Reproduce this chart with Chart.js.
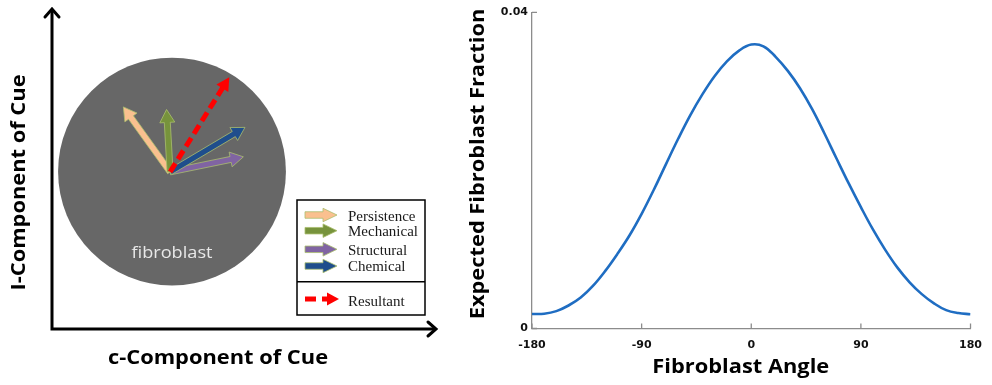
<!DOCTYPE html>
<html>
<head>
<meta charset="utf-8">
<script src="https://cdn.jsdelivr.net/npm/chart.js@4.4.0/dist/chart.umd.min.js"></script>
<style>
  body { margin: 0; background: #fff; }
  #cueChart { position: absolute; left: 0; top: 0; }
  #angleChart { position: absolute; left: 450px; top: 0; }
</style>
</head>
<body>
<canvas id="cueChart" width="450" height="385"></canvas>
<canvas id="angleChart" width="542" height="385"></canvas>
<script>
// cell and cue vectors, in c / l component units
var cellCenter = [3.75, 4.92];
var cellRadius = 3.56;
var cueOrigin = [3.69, 4.91];
var cueNames = ['Persistence', 'Mechanical', 'Structural', 'Chemical'];
var cueC = [-1.46, -0.11, 2.29, 2.34];
var cueL = [2.03, 1.95, 0.47, 1.39];
var resultant = [1.85, 2.96];

// expected fraction of fibroblasts per angle
var angles = [-180, -170, -160, -150, -140, -130, -120, -110, -100, -90, -80, -70, -60, -50, -40, -30, -20, -10,
              0, 10, 20, 30, 40, 50, 60, 70, 80, 90, 100, 110, 120, 130, 140, 150, 160, 170, 180];
var fractions = [0.00183, 0.00187, 0.00220, 0.00291, 0.00392, 0.00539, 0.00726, 0.00941, 0.01176, 0.01450,
                 0.01755, 0.02080, 0.02400, 0.02700, 0.02965, 0.03195, 0.03380, 0.03515,
                 0.03592, 0.03570, 0.03437, 0.03259, 0.03040, 0.02775, 0.02470, 0.02150, 0.01835, 0.01535,
                 0.01250, 0.00995, 0.00770, 0.00585, 0.00435, 0.00318, 0.00232, 0.00195, 0.00180];
var angleTicks = [-180, -90, 0, 90, 180];
var fractionTicks = [0, 0.04];

var cueColors = ['#fac08f', '#77933c', '#8064a2', '#1f4e8c'];
var titleFont = 'bold 19.5px "Open Sans"';
var titleStretch = 1.12;

function blockArrow(ctx, x0, y0, x1, y1, shaftW, headW, headL) {
    var dx = x1 - x0, dy = y1 - y0, len = Math.hypot(dx, dy);
    var ux = dx / len, uy = dy / len, nx = -uy, ny = ux;
    var bx = x1 - ux * headL, by = y1 - uy * headL;
    ctx.beginPath();
    ctx.moveTo(x0 + nx * shaftW / 2, y0 + ny * shaftW / 2);
    ctx.lineTo(bx + nx * shaftW / 2, by + ny * shaftW / 2);
    ctx.lineTo(bx + nx * headW / 2, by + ny * headW / 2);
    ctx.lineTo(x1, y1);
    ctx.lineTo(bx - nx * headW / 2, by - ny * headW / 2);
    ctx.lineTo(bx - nx * shaftW / 2, by - ny * shaftW / 2);
    ctx.lineTo(x0 - nx * shaftW / 2, y0 - ny * shaftW / 2);
    ctx.closePath();
    ctx.fill();
    ctx.stroke();
}

function dashedArrow(ctx, x0, y0, x1, y1, width, headW, headL, dash) {
    var dx = x1 - x0, dy = y1 - y0, len = Math.hypot(dx, dy);
    var ux = dx / len, uy = dy / len, nx = -uy, ny = ux;
    var bx = x1 - ux * headL, by = y1 - uy * headL;
    ctx.save();
    ctx.lineWidth = width;
    ctx.setLineDash(dash);
    ctx.beginPath();
    ctx.moveTo(x0, y0);
    ctx.lineTo(bx + ux * 2, by + uy * 2);
    ctx.stroke();
    ctx.restore();
    ctx.beginPath();
    ctx.moveTo(x1, y1);
    ctx.lineTo(bx + nx * headW / 2, by + ny * headW / 2);
    ctx.lineTo(bx - nx * headW / 2, by - ny * headW / 2);
    ctx.closePath();
    ctx.fill();
}

// bold axis title, slightly widened along its own direction
function axisTitle(ctx, text, x, y, rotated) {
    ctx.save();
    ctx.translate(x, y);
    if (rotated) ctx.rotate(-Math.PI / 2);
    ctx.scale(titleStretch, 1);
    ctx.font = titleFont;
    ctx.fillStyle = '#000';
    ctx.textAlign = 'center';
    ctx.fillText(text, 0, 0);
    ctx.restore();
}

// cell body, axes, cue arrows, labels and key for the cell diagram
var cueDiagram = {
    id: 'cueDiagram',
    beforeDatasetsDraw: function (chart) {
        var ctx = chart.ctx, xs = chart.scales.x, ys = chart.scales.y;
        var cx = xs.getPixelForValue(cellCenter[0]), cy = ys.getPixelForValue(cellCenter[1]);
        var r = xs.getPixelForValue(cellRadius) - xs.getPixelForValue(0);
        ctx.save();
        ctx.fillStyle = '#676767';
        ctx.beginPath();
        ctx.arc(cx, cy, r, 0, Math.PI * 2);
        ctx.fill();
        ctx.restore();
    },
    afterDatasetsDraw: function (chart) {
        var ctx = chart.ctx, xs = chart.scales.x, ys = chart.scales.y;
        var px = function (v) { return xs.getPixelForValue(v); };
        var py = function (v) { return ys.getPixelForValue(v); };
        ctx.save();

        ctx.save();
        ctx.translate(px(cellCenter[0]), py(cellCenter[1]) + 86);
        ctx.scale(1.1, 1);
        ctx.fillStyle = '#e8e8e8';
        ctx.font = '16.5px "Open Sans"';
        ctx.textAlign = 'center';
        ctx.fillText('fibroblast', 0, 0);
        ctx.restore();

        // axes with open arrow heads
        var ox = px(xs.min), oy = py(ys.min), tx = px(xs.max), ty = py(ys.max);
        ctx.strokeStyle = '#000';
        ctx.lineWidth = 3;
        ctx.lineJoin = 'miter';
        ctx.beginPath();
        ctx.moveTo(ox, ty);
        ctx.lineTo(ox, oy);
        ctx.lineTo(tx, oy);
        ctx.stroke();
        ctx.lineCap = 'round';
        ctx.beginPath();
        ctx.moveTo(ox - 7, ty + 8); ctx.lineTo(ox, ty); ctx.lineTo(ox + 7, ty + 8);
        ctx.moveTo(tx - 8, oy - 7); ctx.lineTo(tx, oy); ctx.lineTo(tx - 8, oy + 7);
        ctx.stroke();
        ctx.lineCap = 'butt';

        // cue vectors from the cell centre
        var x0 = px(cueOrigin[0]), y0 = py(cueOrigin[1]);
        ctx.lineWidth = 1;
        cueNames.forEach(function (name, i) {
            ctx.fillStyle = cueColors[i];
            ctx.strokeStyle = 'rgba(170,190,110,0.8)';
            blockArrow(ctx, x0, y0, px(cueOrigin[0] + cueC[i]), py(cueOrigin[1] + cueL[i]), 6, 15, 13);
        });
        ctx.fillStyle = '#ff0000';
        ctx.strokeStyle = '#ff0000';
        dashedArrow(ctx, x0, y0, px(cueOrigin[0] + resultant[0]), py(cueOrigin[1] + resultant[1]), 5, 14, 13, [10, 5]);

        axisTitle(ctx, 'c-Component of Cue', 218, 364, false);
        axisTitle(ctx, 'I-Component of Cue', 25, 182.5, true);

        // key
        ctx.strokeStyle = '#000';
        ctx.lineWidth = 1.5;
        ctx.strokeRect(297, 200, 128, 115);
        ctx.beginPath();
        ctx.moveTo(297, 281.7);
        ctx.lineTo(425, 281.7);
        ctx.stroke();
        var keyY = [215, 230.7, 249.3, 266];
        var keyBase = [220.7, 235.7, 255, 270.7];
        ctx.font = '15px "Liberation Serif"';
        ctx.textAlign = 'left';
        ctx.lineWidth = 1;
        cueNames.forEach(function (name, i) {
            ctx.fillStyle = cueColors[i];
            ctx.strokeStyle = 'rgba(170,190,110,0.8)';
            blockArrow(ctx, 305, keyY[i], 337, keyY[i], 6.5, 13.5, 14);
            ctx.fillStyle = '#1a1a1a';
            ctx.fillText(name, 348, keyBase[i]);
        });
        ctx.fillStyle = '#ff0000';
        ctx.strokeStyle = '#ff0000';
        dashedArrow(ctx, 305, 299, 339, 299, 5, 13, 12, [11, 6]);
        ctx.fillStyle = '#1a1a1a';
        ctx.fillText('Resultant', 348, 305.7);

        ctx.restore();
    }
};

new Chart(document.getElementById('cueChart'), {
    type: 'scatter',
    data: { datasets: [] },
    options: {
        responsive: false,
        animation: false,
        events: [],
        layout: { padding: { left: 52, right: 14, top: 9, bottom: 56 } },
        plugins: { legend: { display: false }, tooltip: { enabled: false } },
        scales: {
            x: { display: false, min: 0, max: 12 },
            y: { display: false, min: 0, max: 10 }
        }
    },
    plugins: [cueDiagram]
});

// inward tick marks and axis titles for the angle plot
var angleAxes = {
    id: 'angleAxes',
    afterDraw: function (chart) {
        var ctx = chart.ctx, xs = chart.scales.x, ys = chart.scales.y, a = chart.chartArea;
        ctx.save();
        ctx.strokeStyle = '#8c8c8c';
        ctx.lineWidth = 1.3;
        ctx.beginPath();
        angleTicks.forEach(function (v) {
            var p = xs.getPixelForValue(v);
            ctx.moveTo(p, a.bottom);
            ctx.lineTo(p, a.bottom - 5);
        });
        fractionTicks.forEach(function (v) {
            var p = ys.getPixelForValue(v);
            ctx.moveTo(a.left, p);
            ctx.lineTo(a.left + 5, p);
        });
        ctx.stroke();
        ctx.restore();

        axisTitle(ctx, 'Fibroblast Angle', 290.8, 373, false);
        axisTitle(ctx, 'Expected Fibroblast Fraction', 33.5, 164, true);
    }
};

new Chart(document.getElementById('angleChart'), {
    type: 'line',
    data: {
        datasets: [{
            data: angles.map(function (a, i) { return { x: a, y: fractions[i] }; }),
            borderColor: '#1f6dc2',
            borderWidth: 2.6,
            pointRadius: 0,
            tension: 0.4,
            fill: false
        }]
    },
    options: {
        responsive: false,
        animation: false,
        events: [],
        layout: { padding: { left: 0, right: 13.5, top: 12.3, bottom: 0 } },
        plugins: { legend: { display: false }, tooltip: { enabled: false } },
        scales: {
            x: {
                type: 'linear',
                min: -180,
                max: 180,
                afterBuildTicks: function (s) { s.ticks = angleTicks.map(function (v) { return { value: v }; }); },
                afterFit: function (s) { s.height = 56.5; },
                grid: { drawOnChartArea: false, drawTicks: false },
                border: { color: '#8c8c8c', width: 1.3 },
                ticks: {
                    color: '#111',
                    font: { family: 'DejaVu Sans', weight: 'bold', size: 11 },
                    padding: 10,
                    maxRotation: 0,
                    autoSkip: false
                }
            },
            y: {
                min: 0,
                max: 0.04,
                afterBuildTicks: function (s) { s.ticks = fractionTicks.map(function (v) { return { value: v }; }); },
                afterFit: function (s) { s.width = 82; },
                grid: { drawOnChartArea: false, drawTicks: false },
                border: { color: '#8c8c8c', width: 1.3 },
                ticks: {
                    color: '#111',
                    font: { family: 'DejaVu Sans', weight: 'bold', size: 11 },
                    padding: 4,
                    callback: function (v) { return v === 0 ? '0' : v.toFixed(2); }
                }
            }
        }
    },
    plugins: [angleAxes]
});
</script>
</body>
</html>
